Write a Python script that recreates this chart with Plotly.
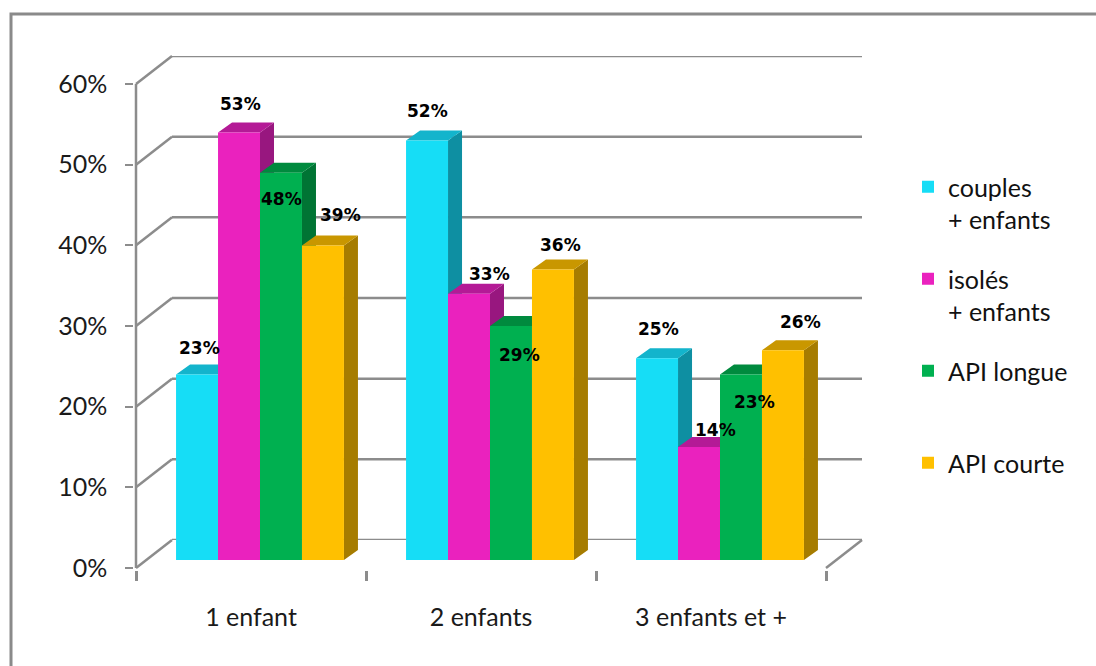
import plotly.graph_objects as go

# ---- data -------------------------------------------------------------
categories = ["1 enfant", "2 enfants", "3 enfants et +"]
series_names = ["couples<br>+ enfants", "isolés<br>+ enfants", "API longue<br> ", "API courte<br> "]
couples_enfants = [0.23, 0.52, 0.25]
isoles_enfants = [0.53, 0.33, 0.14]
api_longue = [0.48, 0.29, 0.23]
api_courte = [0.39, 0.36, 0.26]
y_ticks = [0, 0.1, 0.2, 0.3, 0.4, 0.5, 0.6]

series_values = [couples_enfants, isoles_enfants, api_longue, api_courte]

# ---- styling ----------------------------------------------------------
front_colors = ["#16DDF6", "#EA22BE", "#00B050", "#FFC000"]
top_colors = ["#13B4CC", "#B41A96", "#008A3E", "#C99700"]
side_colors = ["#0E8FA2", "#98177F", "#007434", "#A67C00"]
grid_color = "#8C8C8C"
FONT = "Lato"

# per-label nudges (pixels) relative to the top-centre of each bar front
label_dx = [[2, 1, 1, 18], [0, 20, 9, 8], [1, 16, 14, 18]]
label_dy = [[26, 28, -26, 30], [30, 20, -29, 25], [29, 17, -28, 28]]

W, H = 1096, 666


def fx(p):
    return p / W


def fy(p):
    return 1 - p / H


# plot boxes in pixels: (left, right, top-at-60%, bottom-at-0%)
FRONT = (136, 826, 84, 568)
DEPTH_X, DEPTH_Y = 36, 28
BACK = (FRONT[0] + DEPTH_X, FRONT[1] + DEPTH_X, FRONT[2] - DEPTH_Y, FRONT[3] - DEPTH_Y)
BARS = (FRONT[0] + 9, FRONT[1] + 9, FRONT[2] - 8, FRONT[3] - 8)

YMAX = 0.6
BARGAP = 0.27
n_series = len(series_values)
bar_w = (1 - BARGAP) / n_series
# 3D depth of each bar, in bar-axis units
cat_px = (BARS[1] - BARS[0]) / 3
bar_dx = 14 / cat_px
bar_dy = 10 / (BARS[3] - BARS[2]) * YMAX

fig = go.Figure()

for s, vals in enumerate(series_values):
    xs_side, ys_side, xs_top, ys_top = [], [], [], []
    for c, v in enumerate(vals):
        xc = c + (s - (n_series - 1) / 2) * bar_w
        left, right = xc - bar_w / 2, xc + bar_w / 2
        xs_side += [right, right + bar_dx, right + bar_dx, right, right, None]
        ys_side += [0, bar_dy, v + bar_dy, v, 0, None]
        xs_top += [left, left + bar_dx, right + bar_dx, right, left, None]
        ys_top += [v, v + bar_dy, v + bar_dy, v, v, None]
    fig.add_trace(go.Scatter(
        x=xs_side, y=ys_side, mode="lines", fill="toself",
        fillcolor=side_colors[s], line=dict(width=0), hoverinfo="skip",
        showlegend=False, xaxis="x3", yaxis="y3", zorder=2 * s))
    fig.add_trace(go.Scatter(
        x=xs_top, y=ys_top, mode="lines", fill="toself",
        fillcolor=top_colors[s], line=dict(width=0), hoverinfo="skip",
        showlegend=False, xaxis="x3", yaxis="y3", zorder=2 * s))
    fig.add_trace(go.Bar(
        x=list(range(len(categories))), y=vals, name=series_names[s],
        marker=dict(color=front_colors[s], line=dict(width=0)),
        xaxis="x3", yaxis="y3", zorder=2 * s + 1, legendgroup=str(s)))

# value labels
annotations = []
for s, vals in enumerate(series_values):
    for c, v in enumerate(vals):
        xc = c + (s - (n_series - 1) / 2) * bar_w
        annotations.append(dict(
            x=xc, y=v, xref="x3", yref="y3", text=f"<b>{round(v * 100)}%</b>",
            showarrow=False, xshift=label_dx[c][s], yshift=label_dy[c][s],
            font=dict(family="DejaVu Sans", size=17, color="#000000"),
            xanchor="center", yanchor="middle"))

# placeholder traces so the front and back axes get drawn
fig.add_trace(go.Scatter(x=categories, y=[None] * 3, xaxis="x", yaxis="y",
                         showlegend=False, hoverinfo="skip"))
fig.add_trace(go.Scatter(x=[0, 2], y=[None, None], xaxis="x2", yaxis="y2",
                         showlegend=False, hoverinfo="skip"))

shapes = []
# back-wall gridlines
for v in y_ticks:
    shapes.append(dict(type="line", xref="x2 domain", yref="y2",
                       x0=0, x1=1, y0=v, y1=v,
                       line=dict(color=grid_color, width=2.5), layer="below"))
# floor/wall connectors from the front axis to the back wall
for v in y_ticks:
    yf = FRONT[3] - (FRONT[3] - FRONT[2]) * v / YMAX
    yb = BACK[3] - (BACK[3] - BACK[2]) * v / YMAX
    shapes.append(dict(type="line", xref="paper", yref="paper",
                       x0=fx(FRONT[0]), y0=fy(yf), x1=fx(BACK[0]), y1=fy(yb),
                       line=dict(color=grid_color, width=2.5), layer="below"))
shapes.append(dict(type="line", xref="paper", yref="paper",
                   x0=fx(FRONT[1]), y0=fy(FRONT[3]), x1=fx(BACK[1]), y1=fy(BACK[3]),
                   line=dict(color=grid_color, width=2.5), layer="below"))
# front value-axis line
shapes.append(dict(type="line", xref="x domain", yref="y",
                   x0=0, x1=0, y0=0, y1=YMAX,
                   line=dict(color=grid_color, width=2.5), layer="below"))
# chart frame (top and left edges visible)
shapes.append(dict(type="rect", xref="paper", yref="paper",
                   x0=fx(11), y0=fy(H + 20), x1=fx(W + 20), y1=fy(14),
                   line=dict(color="#8A8A8A", width=3), layer="below"))

axis_hidden = dict(visible=False, showgrid=False, zeroline=False)

fig.update_layout(
    width=W, height=H,
    margin=dict(l=0, r=0, t=0, b=0, autoexpand=False),
    paper_bgcolor="white", plot_bgcolor="rgba(0,0,0,0)",
    barmode="group", bargap=BARGAP, bargroupgap=0,
    showlegend=True,
    legend=dict(x=fx(908), y=fy(164), xanchor="left", yanchor="top",
                font=dict(family=FONT, size=25, color="#111111"),
                valign="top", tracegroupgap=24, bgcolor="rgba(0,0,0,0)",
                traceorder="grouped", itemclick=False),
    # front axes: value ticks and category labels
    xaxis=dict(type="category", domain=[fx(FRONT[0]), fx(FRONT[1])],
               anchor="y", range=[-0.5, 2.5], tickson="boundaries",
               ticks="outside", ticklen=10, tickwidth=2.5, tickcolor=grid_color,
               showline=True, linecolor=grid_color, linewidth=2.5,
               showgrid=False, zeroline=False, automargin=False,
               tickfont=dict(family=FONT, size=25, color="#1a1a1a"),
               ticklabelstandoff=25),
    yaxis=dict(domain=[fy(FRONT[3]), fy(FRONT[2])], anchor="x",
               range=[0, YMAX], tickvals=y_ticks, tickformat=".0%",
               ticks="outside", ticklen=8, tickwidth=2, tickcolor=grid_color,
               showline=True, linecolor=grid_color, linewidth=2.5,
               showgrid=False, zeroline=False, automargin=False,
               tickfont=dict(family=FONT, size=25, color="#1a1a1a"),
               ticklabelstandoff=13),
    # back wall
    xaxis2=dict(domain=[fx(BACK[0]), fx(BACK[1])], anchor="y2",
                range=[-0.5, 2.5], **axis_hidden),
    yaxis2=dict(domain=[fy(BACK[3]), fy(BACK[2])], anchor="x2",
                range=[0, YMAX], **axis_hidden),
    # bars
    xaxis3=dict(domain=[fx(BARS[0]), fx(BARS[1])], anchor="y3",
                range=[-0.5, 2.5], **axis_hidden),
    yaxis3=dict(domain=[fy(BARS[3]), fy(BARS[2])], anchor="x3",
                range=[0, YMAX], **axis_hidden),
    annotations=annotations,
    shapes=shapes,
)

fig.write_html("out.html")
